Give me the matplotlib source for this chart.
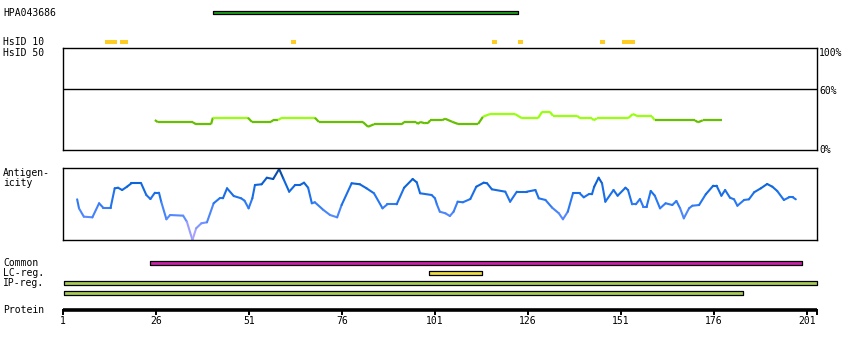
import matplotlib.pyplot as plt
from matplotlib.collections import LineCollection
from matplotlib.colors import LinearSegmentedColormap

# protein / track data (residue numbers)
hpa_label = "HPA043686"
hpa_range = (41.3, 123.3)
hsid10_spans = [(12.3, 15.5), (16.3, 18.5), (62.3, 63.6), (116.3, 117.7),
                (123.3, 124.7), (145.4, 146.7), (151.3, 154.8)]

identity_pos = [25.7, 26.5, 35.9, 36.8, 40.8, 41.3, 50.7, 51.8, 56.9, 57.5, 58.8, 59.9,
                68.7, 69.8, 81.6, 83.0, 84.6, 92.1, 92.7, 95.9, 96.4, 97.0, 98.3, 99.1,
                99.7, 102.9, 103.7, 105.6, 107.2, 112.6, 113.9, 115.8, 122.5, 124.4, 128.7,
                129.8, 131.9, 132.7, 139.2, 140.0, 143.2, 143.7, 144.5, 152.9, 154.2, 155.6,
                159.3, 160.1, 170.9, 171.7, 173.0, 178.2]
identity_val = [29.4, 27.2, 27.2, 25.2, 25.2, 31.7, 31.7, 27.5, 27.5, 29.4, 29.4, 31.7,
                31.7, 27.5, 27.5, 22.8, 25.2, 25.2, 27.5, 27.5, 25.5, 27.5, 26.2, 26.2,
                29.1, 29.1, 30.7, 27.7, 25.5, 25.5, 32.6, 35.3, 35.3, 31.1, 31.1,
                37.5, 37.5, 33.6, 33.6, 31.1, 31.1, 29.1, 31.1, 31.1, 35.3, 33.0,
                33.0, 29.1, 29.1, 27.2, 29.1, 29.1]

antigen_pos = [4.8, 5.3, 6.6, 8.9, 10.7, 11.8, 13.8, 14.9, 15.8, 16.9, 18.2, 19.4, 22.0,
               23.4, 24.5, 25.7, 26.8, 27.4, 28.8, 29.8, 33.3, 34.3, 35.8, 36.8, 38.2,
               39.7, 41.5, 43.1, 44.0, 45.1, 46.9, 48.9, 49.8, 50.9, 51.9, 52.6, 54.4,
               55.8, 57.5, 59.1, 60.2, 61.8, 63.4, 64.7, 65.8, 66.9, 67.9, 68.7, 71.0,
               72.8, 74.7, 75.9, 78.6, 80.8, 82.6, 84.6, 86.9, 88.2, 90.7, 92.7, 95.0,
               96.1, 97.0, 100.1, 101.0, 101.5, 102.3, 103.8, 105.0, 106.0, 107.1, 108.5,
               110.5, 112.1, 114.1, 115.0, 116.3, 119.9, 121.2, 123.0, 125.7, 128.0, 128.9,
               130.7, 132.5, 134.3, 135.4, 136.7, 138.1, 139.9, 141.0, 142.3, 143.2, 143.8,
               145.0, 145.9, 146.8, 149.0, 150.1, 152.2, 152.9, 154.0, 155.0, 156.1, 157.0,
               157.9, 159.0, 160.1, 161.5, 163.0, 164.8, 165.9, 166.9, 167.9, 169.3, 170.2,
               172.0, 173.8, 175.8, 176.7, 178.0, 179.0, 180.3, 181.4, 182.3, 184.1, 185.4,
               186.8, 188.6, 190.3, 191.7, 193.0, 194.8, 196.2, 197.2, 198.0]
antigen_val = [0.565, 0.44, 0.324, 0.315, 0.51, 0.449, 0.449, 0.718, 0.726, 0.694, 0.74,
               0.788, 0.788, 0.625, 0.569, 0.657, 0.657, 0.532, 0.288, 0.347, 0.338, 0.254,
               0.0, 0.163, 0.232, 0.246, 0.51, 0.579, 0.579, 0.718, 0.611, 0.579, 0.546,
               0.44, 0.579, 0.764, 0.774, 0.865, 0.847, 0.986, 0.857, 0.671, 0.764, 0.764,
               0.796, 0.726, 0.51, 0.524, 0.417, 0.347, 0.315, 0.486, 0.788, 0.774, 0.718,
               0.649, 0.44, 0.496, 0.496, 0.726, 0.847, 0.801, 0.649, 0.625, 0.579, 0.496,
               0.393, 0.371, 0.333, 0.393, 0.532, 0.524, 0.569, 0.74, 0.796, 0.788, 0.704,
               0.671, 0.532, 0.671, 0.671, 0.694, 0.579, 0.556, 0.449, 0.371, 0.288, 0.393,
               0.649, 0.649, 0.593, 0.635, 0.635, 0.74, 0.865, 0.788, 0.532, 0.694, 0.615,
               0.726, 0.694, 0.496, 0.496, 0.569, 0.463, 0.463, 0.681, 0.615, 0.44, 0.51,
               0.486, 0.542, 0.44, 0.301, 0.44, 0.476, 0.486, 0.635, 0.754, 0.754, 0.615,
               0.694, 0.588, 0.565, 0.476, 0.556, 0.565, 0.663, 0.718, 0.778, 0.74, 0.681,
               0.556, 0.593, 0.593, 0.565]

common_range = (24.3, 199.6)
lc_range = (99.4, 113.5)
ip_range = (1.35, 203.6)
ip2_range = (1.35, 183.7)
tick_residues = [1, 26, 51, 76, 101, 126, 151, 176, 201]
x_end = 203.7

W, H = 850, 350
PX = 3.72  # pixels per residue
FONT = dict(family="DejaVu Sans Mono", fontsize=7)

fig = plt.figure(figsize=(W / 100, H / 100), dpi=100)

def px_axes(x0, y0, x1, y1):
    return fig.add_axes([x0 / W, 1 - y1 / H, (x1 - x0) / W, (y1 - y0) / H])

# background track axes in residue (x) / pixel row (y) units
track = fig.add_axes([0, 0, 1, 1])
track.set_xlim(1 - 63 / PX, 1 + (W - 63) / PX)
track.set_ylim(H, 0)
track.axis("off")

def bar(ax, rng, y, color, h=3.6, edge="black"):
    ax.broken_barh([(rng[0], rng[1] - rng[0])], (y - h / 2, h),
                   facecolors=color, edgecolors=edge, linewidth=0.9)

bar(track, hpa_range, 12.5, "#1fa21f")
track.broken_barh([(a, b - a) for a, b in hsid10_spans], (40.3, 4),
                  facecolors="#ffcc22", edgecolors="none")
bar(track, common_range, 262.7, "#cc22aa")
bar(track, lc_range, 272.7, "#eedd44")
bar(track, ip_range, 282.7, "#a8cc55")
bar(track, ip2_range, 292.7, "#a8cc55")

# protein axis
track.hlines(310, 1, x_end, color="black", linewidth=2.6)
track.vlines(tick_residues + [x_end], 308.5, 314.5, color="black", linewidth=1.4)
for t in tick_residues:
    track.text(t, 321.5, str(t), ha="center", va="center", **FONT)

# left labels
for label, y in [(hpa_label, 12.5), ("HsID 10", 42.3), ("HsID 50", 52.7),
                 ("Antigen-", 173.3), ("icity", 183.3), ("Common", 262.7),
                 ("LC-reg.", 272.7), ("IP-reg.", 282.7), ("Protein", 310)]:
    fig.text(3 / W, 1 - y / H, label, ha="left", va="center", **FONT)

# identity panel
ax_id = px_axes(63, 48, 817, 150)
ax_id.set_xlim(1, x_end)
ax_id.set_ylim(0, 100)
ax_id.axhline(60, color="black", linewidth=1.0)
segs, cols = [], []
for i in range(len(identity_pos) - 1):
    segs.append([(identity_pos[i], identity_val[i]), (identity_pos[i + 1], identity_val[i + 1])])
    mid = (identity_val[i] + identity_val[i + 1]) / 2
    cols.append("#99ff11" if mid > 30 else "#66bf00")
ax_id.add_collection(LineCollection(segs, colors=cols, linewidths=1.6, capstyle="butt"))
ax_id.set_xticks([])
ax_id.set_yticks([])
for s in ax_id.spines.values():
    s.set_linewidth(1.0)
for txt, y, va in [("100%", 48, "top"), ("60%", 90.5, "center"), ("0%", 150, "center")]:
    fig.text(819 / W, 1 - y / H, txt, ha="left", va=va, **FONT)

# antigenicity panel
ax_ag = px_axes(63, 168, 817, 240)
ax_ag.set_xlim(1, x_end)
ax_ag.set_ylim(0, 1)
cmap = LinearSegmentedColormap.from_list(
    "ag", [(0, "#c4aaff"), (0.3, "#5d8cff"), (0.55, "#2476f2"), (0.8, "#0b63d8"), (1.0, "#0a3f8c")])
segs, cols = [], []
for i in range(len(antigen_pos) - 1):
    segs.append([(antigen_pos[i], antigen_val[i]), (antigen_pos[i + 1], antigen_val[i + 1])])
    cols.append(cmap((antigen_val[i] + antigen_val[i + 1]) / 2))
ax_ag.add_collection(LineCollection(segs, colors=cols, linewidths=1.5, capstyle="round"))
ax_ag.set_xticks([])
ax_ag.set_yticks([])
for s in ax_ag.spines.values():
    s.set_linewidth(1.0)

fig.savefig("out.png", dpi=100)
